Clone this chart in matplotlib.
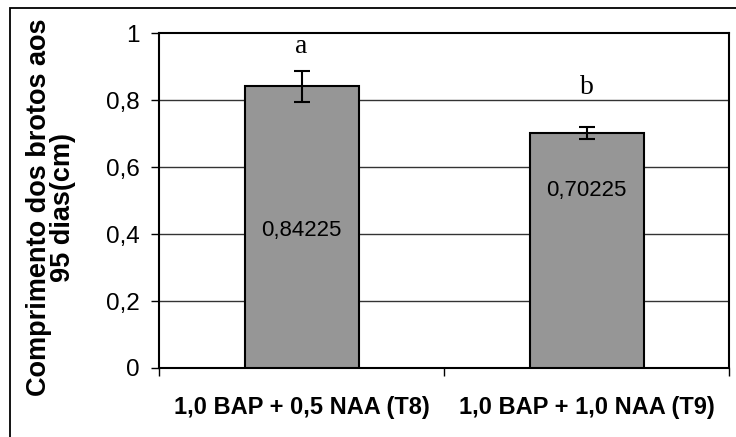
import matplotlib
matplotlib.use("Agg")
import matplotlib.pyplot as plt
from matplotlib.patches import Rectangle
from matplotlib.ticker import FixedLocator

# Data
treatments = ["1,0 BAP + 0,5 NAA (T8)", "1,0 BAP + 1,0 NAA (T9)"]
means = [0.84225, 0.70225]
errors = [0.046, 0.018]
letters = ["a", "b"]
letter_y = [0.96, 0.84]
value_label_y = [0.41, 0.53]
yticks = [0, 0.2, 0.4, 0.6, 0.8, 1.0]
ytick_labels = ["0", "0,2", "0,4", "0,6", "0,8", "1"]

W, H = 736, 437
fig = plt.figure(figsize=(W / 100, H / 100), dpi=100)
ax = fig.add_axes([159 / W, 1 - 368 / H, 570 / W, 334.5 / H])

sans = "Liberation Sans"
serif = "Liberation Serif"

x = list(range(len(treatments)))
ax.bar(x, means, width=0.40, color="#969696", edgecolor="black", linewidth=1.5, zorder=3)
ax.errorbar(x, means, yerr=errors, fmt="none", ecolor="black", elinewidth=1.5,
            capsize=5.5, capthick=1.5, zorder=4)

for xi, m, lab, ly, vy in zip(x, means, letters, letter_y, value_label_y):
    ax.text(xi, ly, lab, ha="center", va="center", fontsize=20, family=serif, zorder=5)
    ax.text(xi, vy, f"{m:.5f}".replace(".", ","), ha="center", va="center",
            fontsize=16, family=sans, zorder=5)

ax.set_xlim(-0.5, len(treatments) - 0.5)
ax.set_ylim(0, 1)

# horizontal gridlines
for yv in yticks[1:-1]:
    ax.axhline(yv, color="#333333", linewidth=1.0, zorder=1)

ax.set_yticks(yticks)
ax.set_yticklabels(ytick_labels, family=sans, fontsize=17.5)
ax.tick_params(axis="y", direction="out", length=6, width=1, pad=8)

ax.set_xticks(x)
ax.set_xticklabels(treatments, family=sans, fontsize=17, fontweight="bold")
ax.xaxis.set_minor_locator(FixedLocator([-0.5, 0.5, 1.5]))
ax.tick_params(axis="x", which="major", length=0, pad=20)
ax.tick_params(axis="x", which="minor", direction="out", length=6, width=1)

for s in ax.spines.values():
    s.set_linewidth(1.5)
    s.set_color("black")

fig.text(51 / W, 1 - 207 / H, "Comprimento dos brotos aos\n95 dias(cm)",
         rotation=90, ha="center", va="center", multialignment="center",
         fontsize=19.5, fontweight="bold", family=sans, linespacing=0.9)

# outer chart frame
fig.patches.append(Rectangle((10 / W, -0.2), 1.2, 1.2 - 8 / H,
                             transform=fig.transFigure, fill=False,
                             edgecolor="black", linewidth=1.3))

fig.savefig("out.png", dpi=100)
